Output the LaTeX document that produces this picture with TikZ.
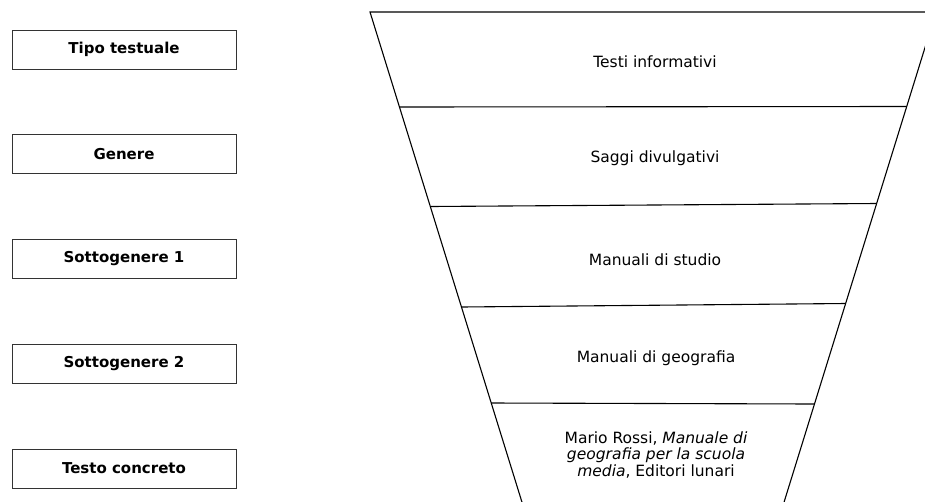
\documentclass[tikz,border=0pt]{standalone}
\usepackage{fontspec}
\setmainfont{DejaVu Sans}
\begin{document}
\begin{tikzpicture}[x=1pt,y=-1pt,
  levelbox/.style={draw=black!80,line width=0.9pt,minimum width=224pt,minimum height=39pt,
    inner sep=0pt,font=\bfseries\fontsize{15}{18}\selectfont},
  bandtext/.style={font=\fontsize{15.5}{16.8}\selectfont,align=center},
  funnel/.style={line width=1.1pt,black}]
\useasboundingbox (0,0) rectangle (925,501);
\fill[white] (0,0) rectangle (925,501);

% level labels on the left
\node[levelbox] (lv1) at (124,49.5) {Tipo testuale};
\node[levelbox] (lv2) at (124,154) {Genere};
\node[levelbox] (lv3) at (124,259) {Sottogenere 1};
\node[levelbox] (lv4) at (124,363.5) {Sottogenere 2};
\node[levelbox] (lv5) at (124,468.5) {Testo concreto};

% funnel outline and band separators
\begin{scope}
\clip (0,0) rectangle (925,501);
\coordinate (tl) at (370,12);
\coordinate (tr) at (936,12);
\coordinate (bl) at (524.4,510);
\coordinate (br) at (781.6,510);
\draw[funnel] (bl) -- (tl) -- (tr) -- (br);
\draw[funnel] (399.5,107) -- (906.5,106.5);
\draw[funnel] (430.3,206.5) -- (876.6,203.5);
\draw[funnel] (461.5,307) -- (845.6,303.5);
\draw[funnel] (491.2,403) -- (814.5,404);
\end{scope}

% band contents
\node[bandtext] (b1) at (655,62) {Testi informativi};
\node[bandtext] (b2) at (655,158) {Saggi divulgativi};
\node[bandtext] (b3) at (655,260) {Manuali di studio};
\node[bandtext] (b4) at (656,358) {Manuali di geografia};
\node[bandtext] (b5) at (656,455) {Mario Rossi, \textit{Manuale di}\\\textit{geografia per la scuola}\\\textit{media}, Editori lunari};
\end{tikzpicture}
\end{document}
